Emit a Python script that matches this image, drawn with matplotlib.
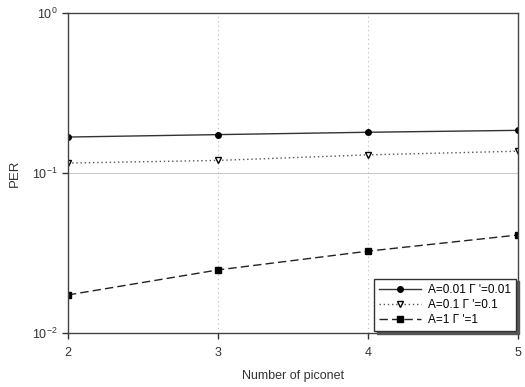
import matplotlib
matplotlib.use("Agg")
import matplotlib.pyplot as plt
from matplotlib.ticker import LogLocator, NullLocator

plt.rcParams['font.family'] = ['Liberation Sans', 'DejaVu Sans']
plt.rcParams['mathtext.fontset'] = 'custom'
plt.rcParams['mathtext.rm'] = 'Liberation Sans'

# data
piconets = [2, 3, 4, 5]
per_a001 = [0.168, 0.174, 0.180, 0.185]
per_a01 = [0.1155, 0.120, 0.130, 0.137]
per_a1 = [0.0173, 0.0248, 0.0325, 0.041]
labels = ["A=0.01 \u0393 '=0.01", "A=0.1 \u0393 '=0.1", "A=1 \u0393 '=1"]

fig = plt.figure(figsize=(5.25, 3.87), dpi=100)
ax = fig.add_axes([0.1295, 0.1395, 0.857, 0.8265])

ax.plot(piconets, per_a001, color='#333333', lw=1.0, marker='o', ms=4,
        mfc='black', mec='black', label=labels[0])
ax.plot(piconets, per_a01, color='#555555', lw=1.0, ls=(0, (1, 2)), marker='v', ms=5,
        mfc='white', mec='black', label=labels[1])
ax.plot(piconets, per_a1, color='#222222', lw=1.0, ls=(0, (6, 3)), marker='s', ms=4,
        mfc='black', mec='black', label=labels[2])

ax.set_yscale('log')
ax.set_ylim(0.01, 1)
ax.set_xlim(2, 5)
ax.set_xticks(piconets)
ax.yaxis.set_major_locator(LogLocator(base=10))
ax.yaxis.set_minor_locator(NullLocator())
ax.grid(True, axis='x', color='#bbbbbb', ls=(0, (1, 3)), lw=0.8)
ax.grid(True, axis='y', color='#bbbbbb', ls='-', lw=0.6)

for s in ax.spines.values():
    s.set_color('#444444')
    s.set_linewidth(1.0)
ax.tick_params(labelsize=9, colors='#333333', direction='out', length=4, width=1)
ax.tick_params(axis='x', pad=6)

ax.set_xlabel('Number of piconet', fontsize=9, color='#333333', labelpad=8)
ax.set_ylabel('PER', fontsize=9.5, color='#333333', labelpad=8)

leg = ax.legend(loc='lower right', fontsize=8.5, frameon=True, fancybox=False,
                edgecolor='#333333', borderaxespad=0.15, handlelength=3.5,
                borderpad=0.45, labelspacing=0.25, handletextpad=0.6,
                shadow={'color': '#555555', 'alpha': 1.0})
leg.get_frame().set_linewidth(1.0)

fig.savefig('out.png', dpi=100)
